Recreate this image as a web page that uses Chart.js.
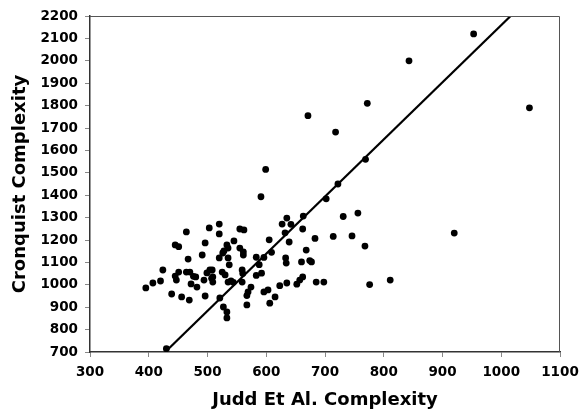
<!DOCTYPE html>
<html>
<head>
<meta charset="utf-8">
<script src="https://cdn.jsdelivr.net/npm/chart.js@4"></script>
<style>
  html, body { margin: 0; padding: 0; background: #fff; }
  #wrap { width: 588px; height: 414px; }
</style>
</head>
<body>
<div id="wrap"><canvas id="myChart" width="588" height="414"></canvas></div>
<script>
// Judd et al. complexity (x) vs Cronquist complexity (y)
const juddX = [
  953, 843, 1048, 772, 671, 718, 769, 599, 722, 591, 702, 920,
  663, 731, 756, 662, 683, 714, 746, 768, 668, 660, 674, 677, 662, 685, 698, 776, 811, 657, 652,
  627, 635, 642, 632, 639, 605, 609, 596, 583, 588, 633, 634, 635, 623, 603, 596, 615, 606,
  583, 592, 574, 569, 567, 567, 559, 560, 559, 544, 540, 555, 562, 545, 555, 561, 561,
  537, 535, 535, 533, 528, 526, 520, 525, 530, 535, 521, 527, 533, 533, 520, 520, 503,
  508, 509, 509, 499, 494, 496, 496, 491, 482, 480, 472, 469, 470, 464, 467, 464, 456,
  451, 447, 445, 445, 451, 439, 424, 420, 407, 395, 430, 476, 504, 507
];
const cronquistY = [
  2120, 2000, 1790, 1810, 1755, 1682, 1560, 1515, 1450, 1393, 1384, 1231,
  1307, 1305, 1320, 1249, 1207, 1216, 1218, 1173, 1155, 1102, 1108, 1102, 1035, 1012, 1012, 1001, 1021, 1021, 1003,
  1271, 1298, 1270, 1232, 1191, 1201, 1145, 1122, 1123, 1090, 1120, 1097, 1008, 996, 977, 968, 946, 918,
  1042, 1052, 990, 968, 952, 910, 1066, 1050, 1012, 1011, 1017, 1249, 1245, 1196, 1164, 1147, 1133,
  1089, 1120, 1164, 1178, 1151, 1142, 1120, 1057, 1044, 1012, 941, 901, 879, 852, 1271, 1227, 1254,
  1066, 1035, 1012, 1053, 1021, 950, 1187, 1133, 990, 1035, 1004, 932, 1057, 1057, 1115, 1236, 946,
  1057, 1021, 1039, 1178, 1170, 959, 1066, 1017, 1008, 986, 715, 1038, 1066, 1029
];
// fitted trend line end points
const trendX = [428, 1016];
const trendY = [700, 2200];

const points = juddX.map((x, i) => ({ x: x, y: cronquistY[i] }));
const trend = trendX.map((x, i) => ({ x: x, y: trendY[i] }));

const tickFont = { family: "DejaVu Sans", weight: "bold", size: 13.5 };
const titleFont = { family: "DejaVu Sans", weight: "bold", size: 18 };
const plain = (v) => String(v); // no thousands separator

// thin frame round the plot area
const frame = {
  id: "frame",
  afterDraw(chart) {
    const { ctx, chartArea: a } = chart;
    ctx.save();
    ctx.strokeStyle = "#555";
    ctx.lineWidth = 1;
    ctx.beginPath();
    ctx.moveTo(a.left, a.top + 0.5);
    ctx.lineTo(a.right - 0.5, a.top + 0.5);
    ctx.lineTo(a.right - 0.5, a.bottom);
    ctx.stroke();
    ctx.restore();
  }
};

new Chart(document.getElementById("myChart"), {
  type: "scatter",
  data: {
    datasets: [
      {
        data: trend,
        type: "line",
        showLine: true,
        borderColor: "#000",
        borderWidth: 2.2,
        pointRadius: 0,
        fill: false,
        order: 1
      },
      {
        data: points,
        backgroundColor: "#000",
        borderColor: "#000",
        pointRadius: 3.4,
        pointBorderWidth: 0,
        order: 0
      }
    ]
  },
  options: {
    responsive: false,
    animation: false,
    events: [],
    layout: { padding: { top: 16, right: 28, left: 0, bottom: 0 } },
    plugins: { legend: { display: false }, tooltip: { enabled: false } },
    scales: {
      x: {
        type: "linear",
        min: 300,
        max: 1100,
        ticks: { stepSize: 100, color: "#000", font: tickFont, padding: 7, maxRotation: 0, callback: plain },
        grid: { drawOnChartArea: false, drawTicks: true, tickLength: 5, color: "#888" },
        border: { display: true, color: "#333", width: 1.5 },
        title: { display: true, text: "Judd Et Al. Complexity", color: "#000", font: titleFont, padding: { top: 0, bottom: 3 } },
        afterFit(s) { s.height = 62; }
      },
      y: {
        type: "linear",
        min: 700,
        max: 2200,
        ticks: { stepSize: 100, color: "#000", font: tickFont, padding: 7, callback: plain },
        grid: { drawOnChartArea: false, drawTicks: true, tickLength: 5, color: "#888" },
        border: { display: true, color: "#333", width: 1.5 },
        title: { display: true, text: "Cronquist Complexity", color: "#000", font: titleFont, padding: { top: 10, bottom: 0 } },
        afterFit(s) { s.width = 90; }
      }
    }
  },
  plugins: [frame]
});
</script>
</body>
</html>
